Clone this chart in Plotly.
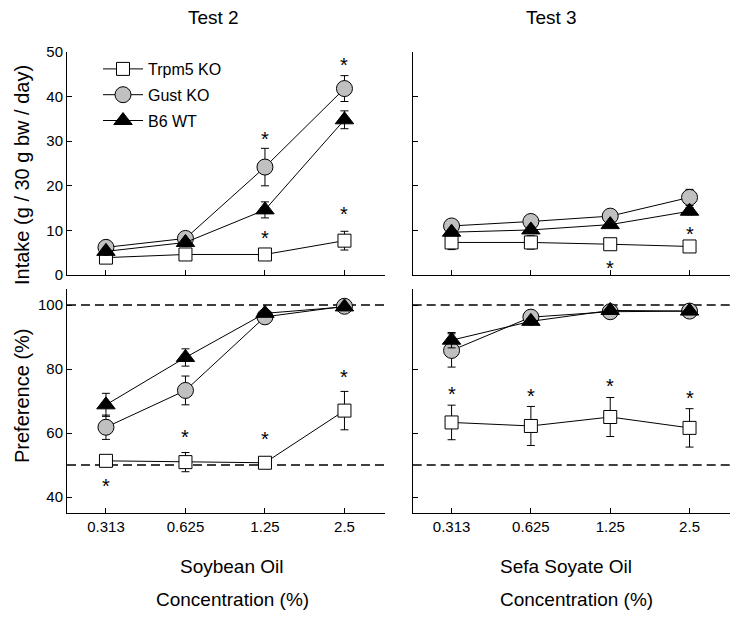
import plotly.graph_objects as go

FONT = "Liberation Sans, Arial, sans-serif"

concentrations = ["0.313", "0.625", "1.25", "2.5"]
groups = ["Trpm5 KO", "Gust KO", "B6 WT"]

# Intake (g / 30 g bw / day) -- Test 2 (Soybean Oil)
intake_t2_trpm5 = [3.9, 4.6, 4.6, 7.7]
intake_t2_trpm5_err = [0.6, 0.5, 0.4, 2.1]
intake_t2_gust = [6.2, 8.2, 24.2, 41.8]
intake_t2_gust_err = [0.8, 0.8, 4.2, 2.9]
intake_t2_b6 = [5.3, 7.3, 14.6, 34.8]
intake_t2_b6_err = [0.6, 0.6, 1.8, 2.0]

# Intake -- Test 3 (Sefa Soyate Oil)
intake_t3_trpm5 = [7.3, 7.3, 6.9, 6.4]
intake_t3_trpm5_err = [1.6, 1.5, 0.5, 0.4]
intake_t3_gust = [11.0, 12.0, 13.2, 17.4]
intake_t3_gust_err = [0.8, 0.8, 0.7, 1.8]
intake_t3_b6 = [9.6, 10.1, 11.3, 14.3]
intake_t3_b6_err = [0.6, 0.6, 0.6, 0.8]

# Preference (%) -- Test 2
pref_t2_trpm5 = [51.3, 50.9, 50.7, 67.0]
pref_t2_trpm5_err = [1.0, 3.0, 0.8, 6.0]
pref_t2_gust = [61.8, 73.3, 96.3, 99.6]
pref_t2_gust_err = [3.8, 4.5, 0.8, 0.3]
pref_t2_b6 = [68.8, 83.6, 97.4, 99.4]
pref_t2_b6_err = [3.6, 2.7, 0.6, 0.3]

# Preference (%) -- Test 3
pref_t3_trpm5 = [63.3, 62.2, 65.0, 61.6]
pref_t3_trpm5_err = [5.4, 6.1, 6.1, 6.0]
pref_t3_gust = [85.8, 96.2, 97.9, 98.1]
pref_t3_gust_err = [5.2, 0.7, 0.5, 0.4]
pref_t3_b6 = [89.0, 94.9, 98.3, 98.1]
pref_t3_b6_err = [2.4, 0.8, 0.4, 0.4]

# Significance asterisks: (concentration, y position)
sig_intake_t2 = [("1.25", 31.7), ("1.25", 9.5), ("2.5", 48.3), ("2.5", 14.9)]
sig_intake_t3 = [("1.25", 2.8), ("2.5", 10.3)]
sig_pref_t2 = [("0.313", 44.9), ("0.625", 60.3), ("1.25", 59.8), ("2.5", 79.1)]
sig_pref_t3 = [("0.313", 73.6), ("0.625", 73.2), ("1.25", 76.1), ("2.5", 72.5)]

ref_lines = [50, 100]

marker_styles = {
    "Trpm5 KO": dict(symbol="square", size=13, color="white", line=dict(color="black", width=1)),
    "Gust KO": dict(symbol="circle", size=16, color="#c0c0c0", line=dict(color="black", width=1)),
    "B6 WT": dict(symbol="triangle-up", size=16, color="black", line=dict(color="black", width=1)),
}

panels = [
    ("x", "y", [intake_t2_trpm5, intake_t2_gust, intake_t2_b6],
     [intake_t2_trpm5_err, intake_t2_gust_err, intake_t2_b6_err], True),
    ("x2", "y2", [intake_t3_trpm5, intake_t3_gust, intake_t3_b6],
     [intake_t3_trpm5_err, intake_t3_gust_err, intake_t3_b6_err], False),
    ("x3", "y3", [pref_t2_trpm5, pref_t2_gust, pref_t2_b6],
     [pref_t2_trpm5_err, pref_t2_gust_err, pref_t2_b6_err], False),
    ("x4", "y4", [pref_t3_trpm5, pref_t3_gust, pref_t3_b6],
     [pref_t3_trpm5_err, pref_t3_gust_err, pref_t3_b6_err], False),
]

fig = go.Figure()
for xa, ya, series, errs, show in panels:
    for name, vals, err in zip(groups, series, errs):
        fig.add_trace(go.Scatter(
            x=concentrations, y=vals, xaxis=xa, yaxis=ya,
            mode="lines+markers", name=name, legendgroup=name,
            showlegend=show,
            line=dict(color="black", width=1),
            marker=marker_styles[name],
            error_y=dict(type="data", array=err, visible=True,
                         color="black", thickness=1, width=4),
        ))

annotations = []
for xa, ya, sig in [("x", "y", sig_intake_t2), ("x2", "y2", sig_intake_t3),
                    ("x3", "y3", sig_pref_t2), ("x4", "y4", sig_pref_t3)]:
    for cx, cy in sig:
        annotations.append(dict(x=concentrations.index(cx), y=cy, xref=xa, yref=ya,
                                text="*", showarrow=False, yshift=-5,
                                font=dict(family=FONT, size=20, color="black")))

shapes = []
for xa, ya in [("x3", "y3"), ("x4", "y4")]:
    for v in ref_lines:
        shapes.append(dict(type="line", xref=xa + " domain", yref=ya,
                           x0=0, x1=1, y0=v, y1=v, layer="below",
                           line=dict(color="black", width=1.3, dash="9px,5px")))

def txt(text, x, y, size=19, xanchor="center", angle=0):
    return dict(text=text, x=x, y=y, xref="paper", yref="paper",
                showarrow=False, xanchor=xanchor, yanchor="middle",
                textangle=angle, font=dict(family=FONT, size=size, color="black"))

# page offset (body margin) so screen coordinates line up
OFF = 8
W, H = 742, 619
ml, mr, mt, mb = 67 - OFF, 12 + OFF, 52 - OFF, 106 + OFF
pw, ph = W - ml - mr, H - mt - mb
px = lambda p: (p - OFF - ml) / pw
py = lambda p: (H - mb - (p - OFF)) / ph

annotations += [
    txt("Test 2", px(213), py(17)),
    txt("Test 3", px(551), py(17)),
    txt("Soybean Oil", px(232), py(566)),
    txt("Concentration (%)", px(232), py(599)),
    txt("Sefa Soyate Oil", px(498), py(566), xanchor="left"),
    txt("Concentration (%)", px(498), py(599), xanchor="left"),
    txt("Intake (g / 30 g bw / day)", px(22), py(175), size=20, angle=-90),
    txt("Preference (%)", px(22), py(396), size=20, angle=-90),
]

xl = [0, px(385)]
xr = [px(412.7), 1]
yt = [py(275), 1]
yb = [0, py(289)]

axis_common = dict(showline=True, linecolor="black", linewidth=1, ticks="inside",
                   ticklen=5, tickcolor="black", tickwidth=1, showgrid=False,
                   zeroline=False, tickfont=dict(family=FONT, size=15, color="black"))
xcommon = dict(axis_common, type="category", range=[-0.49, 3.51])

fig.update_layout(
    width=W, height=H,
    margin=dict(l=ml, r=mr, t=mt, b=mb),
    paper_bgcolor="white", plot_bgcolor="white",
    font=dict(family=FONT, size=15, color="black"),
    xaxis=dict(xcommon, domain=xl, anchor="y", showticklabels=False),
    xaxis2=dict(xcommon, domain=xr, anchor="y2", showticklabels=False),
    xaxis3=dict(xcommon, domain=xl, anchor="y3"),
    xaxis4=dict(xcommon, domain=xr, anchor="y4"),
    yaxis=dict(axis_common, domain=yt, anchor="x", range=[0, 50], dtick=10),
    yaxis2=dict(axis_common, domain=yt, anchor="x2", range=[0, 50], dtick=10,
                showticklabels=False),
    yaxis3=dict(axis_common, domain=yb, anchor="x3", range=[35, 105],
                tickvals=[40, 60, 80, 100]),
    yaxis4=dict(axis_common, domain=yb, anchor="x4", range=[35, 105],
                tickvals=[40, 60, 80, 100], showticklabels=False),
    legend=dict(x=px(98), y=py(52), xanchor="left", yanchor="top",
                bgcolor="rgba(0,0,0,0)", font=dict(family=FONT, size=16),
                itemwidth=40, traceorder="grouped", tracegroupgap=2),
    annotations=annotations,
    shapes=shapes,
    showlegend=True,
)

fig.write_html("out.html")
